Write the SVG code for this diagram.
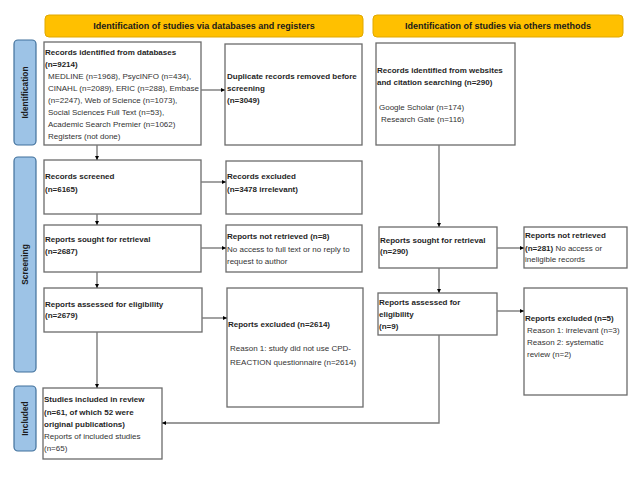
<svg xmlns="http://www.w3.org/2000/svg" width="640" height="480" viewBox="0 0 640 480">
<defs>
<style>
.hdr{fill:#FFC000;stroke:#E0A800;stroke-width:1}
.side{fill:#9DC3E6;stroke:#41719C;stroke-width:1.2}
.box{fill:#fff;stroke:#6b6b6b;stroke-width:1.3}
text{font-family:"Liberation Sans",Arial,sans-serif;font-size:8px;fill:#1f1f1f}
.b{font-weight:bold}
.h{font-weight:bold;font-size:9px;text-anchor:middle;fill:#1a1a1a}
.s{font-weight:bold;font-size:8.4px;text-anchor:middle;fill:#1a1a1a}
.r{fill:#333}
.con{fill:none;stroke:#7a7a7a;stroke-width:1.4}
</style>
<marker id="ah" viewBox="0 0 10 10" refX="10" refY="5" markerWidth="4" markerHeight="4" orient="auto" markerUnits="userSpaceOnUse">
<path d="M0,0 L10,5 L0,10 z" fill="#000"/>
</marker>
</defs>
<rect width="640" height="480" fill="#fff"/>

<g id="header-db">
<rect class="hdr" x="45" y="15" width="318" height="22" rx="4"/>
<text class="h" x="204" y="29">Identification of studies via databases and registers</text>
</g>
<g id="header-other">
<rect class="hdr" x="373" y="15" width="250" height="22" rx="4"/>
<text class="h" x="498" y="29">Identification of studies via others methods</text>
</g>

<g id="label-identification">
<rect class="side" x="14" y="40" width="22" height="105" rx="4"/>
<text class="s" transform="translate(28,92.5) rotate(-90)">Identification</text>
</g>
<g id="label-screening">
<rect class="side" x="14" y="157" width="22" height="215" rx="4"/>
<text class="s" transform="translate(28,264.5) rotate(-90)">Screening</text>
</g>
<g id="label-included">
<rect class="side" x="14" y="386" width="22" height="65" rx="4"/>
<text class="s" transform="translate(28,418.5) rotate(-90)">Included</text>
</g>

<g id="records-db">
<rect class="box" x="44" y="42" width="157" height="103"/>
<text class="b" x="45" y="55">Records identified from databases</text>
<text class="b" x="45" y="67">(n=9214)</text>
<text class="r" x="48" y="79">MEDLINE (n=1968), PsycINFO (n=434),</text>
<text class="r" x="48" y="91">CINAHL (n=2089), ERIC (n=288), Embase</text>
<text class="r" x="48" y="103">(n=2247), Web of Science (n=1073),</text>
<text class="r" x="48" y="115">Social Sciences Full Text (n=53),</text>
<text class="r" x="48" y="127">Academic Search Premier (n=1062)</text>
<text class="r" x="48" y="139">Registers (not done)</text>
</g>
<g id="duplicates">
<rect class="box" x="225" y="44" width="137" height="101"/>
<text class="b" x="227" y="79">Duplicate records removed before</text>
<text class="b" x="227" y="91">screening</text>
<text class="b" x="227" y="103">(n=3049)</text>
</g>
<g id="records-other">
<rect class="box" x="376" y="43" width="139" height="102"/>
<text class="b" x="377" y="73">Records identified from websites</text>
<text class="b" x="377" y="85">and citation searching (n=290)</text>
<text class="r" x="379" y="110">Google Scholar  (n=174)</text>
<text class="r" x="381" y="122">Research Gate (n=116)</text>
</g>

<g id="screened">
<rect class="box" x="44" y="160" width="157" height="54"/>
<text class="b" x="45" y="179">Records screened</text>
<text class="b" x="45" y="192">(n=6165)</text>
</g>
<g id="excluded-screen">
<rect class="box" x="226" y="161" width="136" height="53"/>
<text class="b" x="227" y="179">Records excluded</text>
<text class="b" x="227" y="192">(n=3478 irrelevant)</text>
</g>
<g id="sought-db">
<rect class="box" x="44" y="225" width="157" height="47"/>
<text class="b" x="45" y="242">Reports sought for retrieval</text>
<text class="b" x="45" y="254">(n=2687)</text>
</g>
<g id="not-retrieved-db">
<rect class="box" x="226" y="225" width="136" height="47"/>
<text class="b" x="227" y="239">Reports not retrieved (n=8)</text>
<text class="r" x="227" y="252">No access to full text or no reply to</text>
<text class="r" x="227" y="264">request to author</text>
</g>
<g id="sought-other">
<rect class="box" x="379" y="227" width="118" height="41"/>
<text class="b" x="380" y="243">Reports sought for retrieval</text>
<text class="b" x="380" y="254">(n=290)</text>
</g>
<g id="not-retrieved-other">
<rect class="box" x="524" y="227" width="103" height="41"/>
<text class="b" x="525" y="238">Reports not retrieved</text>
<text x="525" y="251"><tspan class="b">(n=281)</tspan><tspan class="r"> No access or</tspan></text>
<text class="r" x="525" y="262">ineligible records</text>
</g>
<g id="assessed-db">
<rect class="box" x="44" y="288" width="158" height="44"/>
<text class="b" x="45" y="307">Reports assessed for eligibility</text>
<text class="b" x="45" y="318">(n=2679)</text>
</g>
<g id="excluded-db">
<rect class="box" x="227" y="288" width="136" height="119"/>
<text class="b" x="228" y="327">Reports excluded (n=2614)</text>
<text class="r" x="230" y="351">Reason 1: study did not use CPD-</text>
<text class="r" x="230" y="365">REACTION questionnaire  (n=2614)</text>
</g>
<g id="assessed-other">
<rect class="box" x="378" y="293" width="119" height="42"/>
<text class="b" x="379" y="305">Reports assessed for</text>
<text class="b" x="379" y="317">eligibility</text>
<text class="b" x="379" y="329">(n=9)</text>
</g>
<g id="excluded-other">
<rect class="box" x="524" y="288" width="103" height="107"/>
<text class="b" x="525" y="321">Reports excluded (n=5)</text>
<text class="r" x="527" y="333">Reason 1: irrelevant (n=3)</text>
<text class="r" x="527" y="345">Reason 2: systematic</text>
<text class="r" x="527" y="357">review (n=2)</text>
</g>
<g id="included">
<rect class="box" x="43" y="388" width="119" height="71"/>
<text class="b" x="44" y="402">Studies included in review</text>
<text class="b" x="44" y="415">(n=61, of which 52 were</text>
<text class="b" x="44" y="427">original publications)</text>
<text class="r" x="44" y="439">Reports of included studies</text>
<text class="r" x="44" y="451">(n=65)</text>
</g>

<g id="connectors">
<path class="con" d="M201,90 H225" marker-end="url(#ah)"/>
<path class="con" d="M97,145 V160" marker-end="url(#ah)"/>
<path class="con" d="M201,182 H226" marker-end="url(#ah)"/>
<path class="con" d="M97,214 V225" marker-end="url(#ah)"/>
<path class="con" d="M201,248 H226" marker-end="url(#ah)"/>
<path class="con" d="M97,272 V288" marker-end="url(#ah)"/>
<path class="con" d="M202,318 H227" marker-end="url(#ah)"/>
<path class="con" d="M97,332 V388" marker-end="url(#ah)"/>
<path class="con" d="M439,145 V227" marker-end="url(#ah)"/>
<path class="con" d="M497,248 H524" marker-end="url(#ah)"/>
<path class="con" d="M439,268 V293" marker-end="url(#ah)"/>
<path class="con" d="M497,311 H524" marker-end="url(#ah)"/>
<path class="con" d="M439,335 V423 H162" marker-end="url(#ah)"/>
</g>
</svg>
